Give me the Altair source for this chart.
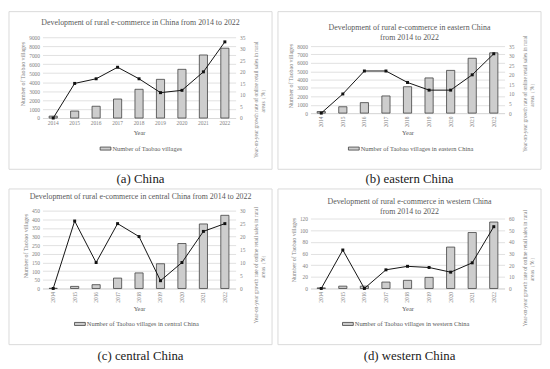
import altair as alt
import pandas as pd

years = ["2014", "2015", "2016", "2017", "2018", "2019", "2020", "2021", "2022"]

china_villages = [212, 780, 1311, 2118, 3202, 4310, 5425, 7023, 7780]
china_growth = [0, 15, 17, 22, 17, 11, 12, 20, 33]

east_villages = [190, 760, 1250, 2050, 3150, 4200, 5100, 6550, 7200]
east_growth = [0, 10, 22, 22, 16, 12, 12, 20, 31]

central_villages = [1, 12, 22, 60, 90, 143, 260, 373, 423]
central_growth = [0, 26, 10, 25, 20, 3, 10, 22, 25]

west_villages = [1, 4, 4, 11, 14, 19, 71, 96, 114]
west_growth = [0, 33, 0, 16, 19, 18, 14, 22, 53]

titles = [
    ["Development of rural e-commerce in China from 2014 to 2022"],
    ["Development of rural e-commerce in eastern China", "from 2014 to 2022"],
    ["Development of rural e-commerce in central China from 2014 to 2022"],
    ["Development of rural e-commerce in western China", "from 2014 to 2022"],
]
legend_labels = [
    "Number of Taobao villages",
    "Number of Taobao villages in eastern China",
    "Number of Taobao villages in central China",
    "Number of Taobao villages in western China",
]
captions = ["(a) China", "(b) eastern China", "(c) central China", "(d) western China"]
left_title = "Number of Taobao villages"
right_title = ["Year-on-year growth rate of online retail sales in rural", "areas\uff08%\uff09"]

SERIF = "Liberation Serif"
GRAY = "#7f7f7f"
DARK = "#595959"


def panel(villages, growth, title, legend_label, caption, left_max, left_step,
          right_max, right_step, W, H, ext, top, bottom, left, right, label_angle,
          title_y, rtitle_y, legend_x, cap_dy):
    # ext: empty headroom (px) above the highest gridline inside the plot area
    df = pd.DataFrame({"Year": years, "villages": villages, "growth": growth,
                       "series": [legend_label] * len(years)})
    one = pd.DataFrame({"k": [0]})
    k = H / (H - ext)

    x_enc = alt.X(
        "Year:O", title="Year",
        scale=alt.Scale(paddingInner=0.62, paddingOuter=0.31),
        axis=alt.Axis(labelAngle=label_angle, labelFontSize=5.5, labelColor=GRAY,
                      labelFont=SERIF, titleFont=SERIF, titleFontSize=6.5,
                      titleFontWeight="normal", titleColor=DARK, ticks=False,
                      domainColor="#d9d9d9", labelPadding=3, titlePadding=3),
    )

    border = alt.Chart(one).mark_rect(filled=False, stroke="#d9d9d9", strokeWidth=1).encode(
        x=alt.value(-left), x2=alt.value(W + right),
        y=alt.value(-top), y2=alt.value(H + bottom),
    )

    bars = alt.Chart(df).mark_bar(stroke="#404040", strokeWidth=0.8).encode(
        x=x_enc,
        y=alt.Y("villages:Q", title=left_title,
                scale=alt.Scale(domain=[0, left_max * k], nice=False),
                axis=alt.Axis(values=list(range(0, left_max + 1, left_step)), format="d",
                              labelFontSize=5.5, labelColor=GRAY, labelFont=SERIF,
                              titleFont=SERIF, titleFontSize=6, titleFontWeight="normal",
                              titleColor=GRAY, titleY=ext + (H - ext) / 2 - 4,
                              ticks=False, domain=False,
                              gridColor="#d9d9d9", gridWidth=0.8, labelPadding=3,
                              titlePadding=3)),
        color=alt.Color("series:N", scale=alt.Scale(range=["#cdcdcd"]),
                        legend=alt.Legend(title=None, orient="none",
                                          legendX=legend_x, legendY=H + bottom - 27,
                                          symbolType="M-1,-0.28H1V0.28H-1Z",
                                          symbolSize=120, symbolStrokeColor="#404040",
                                          symbolStrokeWidth=0.8, labelFont=SERIF,
                                          labelFontSize=6.5, labelColor=DARK,
                                          labelOffset=1)),
    )

    y_right = alt.Y("growth:Q", title=right_title,
                    scale=alt.Scale(domain=[0, right_max * k], nice=False),
                    axis=alt.Axis(orient="right",
                                  values=list(range(0, right_max + 1, right_step)),
                                  labelFontSize=5.5, labelColor=GRAY, labelFont=SERIF,
                                  titleFont=SERIF, titleFontSize=5.5,
                                  titleFontWeight="normal", titleColor=GRAY,
                                  titleAngle=270, titleY=rtitle_y, ticks=False,
                                  domain=False, grid=False,
                                  labelPadding=4, titlePadding=6))
    line = alt.Chart(df).mark_line(color="#111111", strokeWidth=1).encode(x=x_enc, y=y_right)
    pts = alt.Chart(df).mark_square(color="#111111", size=9, opacity=1).encode(x=x_enc, y=y_right)

    title_txt = alt.Chart(one).mark_text(font=SERIF, fontSize=8, color=DARK,
                                         baseline="middle", lineHeight=10).encode(
        x=alt.value((W + right - left) / 2), y=alt.value(title_y), text=alt.value(title))

    cap = alt.Chart(one).mark_text(font=SERIF, fontSize=13, color="#1a1a1a",
                                   baseline="middle").encode(
        x=alt.value((W + right - left) / 2), y=alt.value(H + bottom + cap_dy),
        text=alt.value(caption))

    return alt.layer(border, bars, alt.layer(line, pts), title_txt, cap).resolve_scale(
        y="independent").properties(width=W, height=H)


pa = panel(china_villages, china_growth, titles[0], legend_labels[0], captions[0],
           9000, 1000, 35, 5, W=196, H=82, ext=0, top=26, bottom=52, left=34, right=37,
           label_angle=0, title_y=-14, rtitle_y=63, legend_x=58, cap_dy=10)
pb = panel(east_villages, east_growth, titles[1], legend_labels[1], captions[1],
           8000, 1000, 35, 5, W=197, H=77, ext=9, top=26, bottom=57, left=33, right=37,
           label_angle=-90, title_y=-9, rtitle_y=57, legend_x=38, cap_dy=10)
pc = panel(central_villages, central_growth, titles[2], legend_labels[2], captions[2],
           450, 50, 30, 5, W=196, H=79, ext=0, top=22, bottom=57, left=34, right=37,
           label_angle=-90, title_y=-14, rtitle_y=55, legend_x=32, cap_dy=12)
pd_ = panel(west_villages, west_growth, titles[3], legend_labels[3], captions[3],
            120, 20, 60, 10, W=197, H=79, ext=8, top=22, bottom=57, left=33, right=37,
            label_angle=-90, title_y=-8.5, rtitle_y=58, legend_x=32, cap_dy=12)

chart = alt.hconcat(
    alt.vconcat(pa, pc, spacing=2).resolve_scale(color="independent"),
    alt.vconcat(pb, pd_, spacing=2).resolve_scale(color="independent"),
    spacing=4,
).resolve_scale(color="independent").properties(padding=0).configure_view(stroke=None)

chart.save("out.html", embed_options={"renderer": "svg", "actions": False})
